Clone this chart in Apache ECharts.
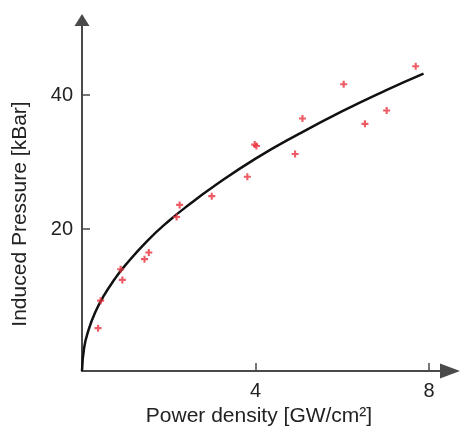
<!DOCTYPE html>
<html>
<head>
<meta charset="utf-8">
<script src="https://cdn.jsdelivr.net/npm/echarts@6/dist/echarts.min.js"></script>
<style>html,body{margin:0;padding:0;background:#fff;}#c{width:463px;height:433px;}</style>
</head>
<body>
<div id="c"></div>
<script>
// Measured points (power density GW/cm², induced pressure kBar)
var measX = [0.37, 0.43, 0.89, 0.93, 1.44, 1.54, 2.18, 2.25, 2.99, 3.81, 3.98, 4.02, 4.91, 5.08, 6.03, 6.52, 7.02, 7.69];
var measY = [5.2, 9.3, 14.0, 12.4, 15.5, 16.5, 21.8, 23.6, 24.9, 27.8, 32.6, 32.4, 31.2, 36.5, 41.6, 35.7, 37.7, 44.3];
// Fitted curve
var fitX = [0, 0.05, 0.15, 0.3, 0.5, 0.75, 1.0, 1.5, 2.0, 2.5, 3.0, 4.0, 5.0, 6.0, 7.0, 7.87];
var fitY = [-1.2, 2.3, 4.9, 7.5, 10.0, 12.5, 14.6, 18.2, 21.2, 23.8, 26.2, 30.5, 34.2, 37.6, 40.7, 43.2];
var xTicks = [4, 8];
var yTicks = [20, 40];
var xName = 'Power density [GW/cm²]';
var yName = 'Induced Pressure [kBar]';

var chart = echarts.init(document.getElementById('c'));
var font = 'Liberation Sans, Arial, sans-serif';
var axisGrey = '#4a4a4a';
var plus = 'path://M3.5,0H6.5V3.5H10V6.5H6.5V10H3.5V6.5H0V3.5H3.5Z';

chart.setOption({
  animation: false,
  backgroundColor: '#fff',
  grid: {left: 82, right: 13, top: 20, bottom: 62},
  xAxis: {
    type: 'value', min: 0, max: 8.48,
    splitLine: {show: false},
    axisLine: {onZero: false, lineStyle: {color: axisGrey, width: 2}, symbol: ['none', 'triangle'], symbolSize: [15, 20]},
    axisTick: {inside: true, length: 8, lineStyle: {color: axisGrey, width: 1.5}, customValues: xTicks},
    axisLabel: {color: '#222', fontSize: 20, fontFamily: font, margin: 10, customValues: xTicks},
    name: xName, nameLocation: 'middle', nameGap: 35,
    nameTextStyle: {color: '#222', fontSize: 21, fontFamily: font, padding: [0, 14, 0, 0]}
  },
  yAxis: {
    type: 'value', min: -1.2, max: 51.2,
    splitLine: {show: false},
    axisLine: {onZero: false, lineStyle: {color: axisGrey, width: 2}, symbol: ['none', 'triangle'], symbolSize: [15, 12]},
    axisTick: {inside: true, length: 8, lineStyle: {color: axisGrey, width: 1.5}, customValues: yTicks},
    axisLabel: {color: '#222', fontSize: 20, fontFamily: font, margin: 9, customValues: yTicks},
    name: yName, nameLocation: 'middle', nameGap: 51, nameRotate: 90,
    nameTextStyle: {color: '#222', fontSize: 21, fontFamily: font, padding: [0, 37, 0, 0]}
  },
  series: [
    {
      type: 'line', smooth: true, showSymbol: false, symbol: 'none',
      data: fitX.map(function (x, i) { return [x, fitY[i]]; }),
      lineStyle: {color: '#111', width: 2.5}, z: 2
    },
    {
      type: 'scatter', symbol: plus, symbolSize: 7,
      data: measX.map(function (x, i) { return [x, measY[i]]; }),
      itemStyle: {color: '#e8323f'}, z: 3
    }
  ]
});
</script>
</body>
</html>
